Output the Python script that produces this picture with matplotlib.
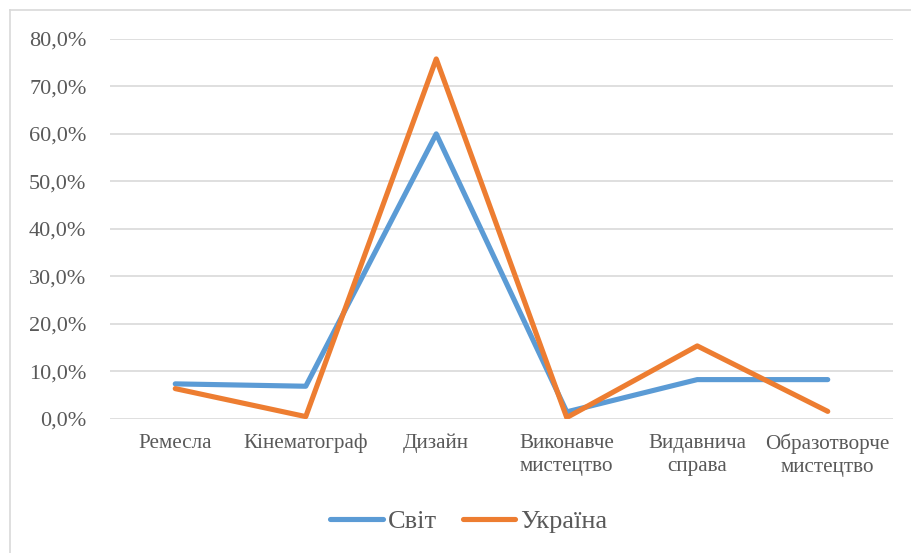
import matplotlib
matplotlib.use("Agg")
import matplotlib.pyplot as plt
from matplotlib.ticker import FuncFormatter, MultipleLocator
from matplotlib.lines import Line2D

categories = ["Ремесла", "Кінематограф", "Дизайн", "Виконавче\nмистецтво",
              "Видавнича\nсправа", "Образотворче\nмистецтво"]
world = [0.073, 0.068, 0.600, 0.014, 0.082, 0.082]
ukraine = [0.063, 0.004, 0.758, 0.002, 0.153, 0.015]
series_names = ["Світ", "Україна"]

BLUE = "#5B9BD5"
ORANGE = "#ED7D31"
TEXT = "#595959"
GRID = "#D9D9D9"

plt.rcParams["font.family"] = ["Liberation Serif", "DejaVu Serif"]

fig = plt.figure(figsize=(9.12, 5.53), dpi=100)
ax = fig.add_axes([110 / 912, 1 - 418.5 / 553, (893 - 110) / 912, (418.5 - 39) / 553])

x = list(range(len(categories)))
ax.plot(x, world, color=BLUE, lw=3.7, solid_capstyle="round", solid_joinstyle="round", zorder=3)
ax.plot(x, ukraine, color=ORANGE, lw=3.7, solid_capstyle="round", solid_joinstyle="round", zorder=4)

ax.set_xlim(-0.5, len(categories) - 0.5)
ax.set_ylim(0, 0.8)
ax.yaxis.set_major_locator(MultipleLocator(0.1))
ax.yaxis.set_major_formatter(FuncFormatter(lambda v, p: f"{v * 100:.1f}%".replace(".", ",")))
ax.set_xticks(x)
ax.set_xticklabels(categories, fontsize=15.2, color=TEXT, linespacing=1.3)
ax.tick_params(axis="x", length=0, pad=11)
ax.tick_params(axis="y", length=0, pad=17, labelsize=16, labelcolor=TEXT)
ax.grid(axis="y", color=GRID, lw=1.2)
ax.set_axisbelow(True)
for s in ax.spines.values():
    s.set_visible(False)

handles = [Line2D([], [], color=BLUE, lw=3.7, solid_capstyle="round"),
           Line2D([], [], color=ORANGE, lw=3.7, solid_capstyle="round")]
leg = fig.legend(handles, series_names, loc="center", bbox_to_anchor=(469 / 912, 1 - 521 / 553),
                 ncol=2, frameon=False, fontsize=19, handlelength=2.0, handletextpad=0.2,
                 columnspacing=0.95)
for t in leg.get_texts():
    t.set_color(TEXT)

# chart area border
fig.add_artist(Line2D([10 / 912, 10 / 912], [0, 1 - 9.5 / 553], color="#D9D9D9", lw=1.2,
                      transform=fig.transFigure))
fig.add_artist(Line2D([10 / 912, 1], [1 - 9.5 / 553, 1 - 9.5 / 553], color="#D9D9D9", lw=1.2,
                      transform=fig.transFigure))

fig.savefig("out.png", dpi=100)
